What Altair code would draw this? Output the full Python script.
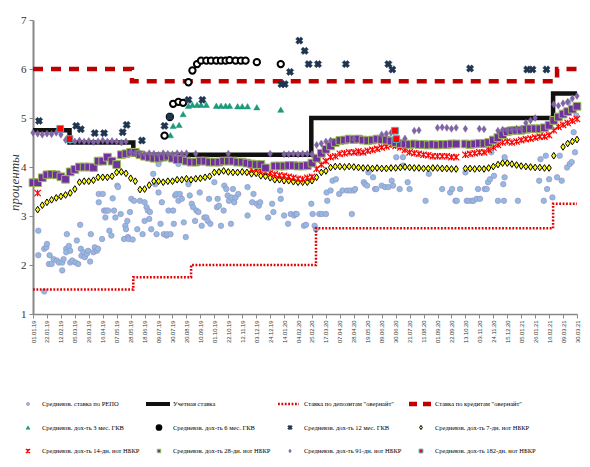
import altair as alt
import pandas as pd

START = pd.Timestamp("2019-01-01")

TICK_LABELS = ["01.01.19", "22.01.19", "12.02.19", "05.03.19", "26.03.19", "16.04.19", "07.05.19",
               "28.05.19", "18.06.19", "09.07.19", "30.07.19", "20.08.19", "10.09.19", "01.10.19",
               "22.10.19", "12.11.19", "03.12.19", "24.12.19", "14.01.20", "04.02.20", "25.02.20",
               "17.03.20", "07.04.20", "28.04.20", "19.05.20", "09.06.20", "30.06.20", "21.07.20",
               "11.08.20", "01.09.20", "22.09.20", "13.10.20", "03.11.20", "24.11.20", "15.12.20",
               "05.01.21", "26.01.21", "16.02.21", "09.03.21", "30.03.21"]

# step lines (date of change, value)
DISCOUNT_DATES = ["2019-01-01", "2019-02-25", "2019-06-01", "2020-02-24", "2021-02-22", "2021-03-30"]
DISCOUNT_VALS = [4.75, 4.5, 4.25, 5.0, 5.5, 5.5]
DEPOSIT_DATES = ["2019-01-01", "2019-06-01", "2019-08-27", "2020-03-02", "2021-02-22", "2021-03-30"]
DEPOSIT_VALS = [1.5, 1.75, 2.0, 2.75, 3.25, 3.25]
CREDIT_DATES = ["2019-01-01", "2019-05-30", "2021-02-28", "2021-03-30"]
CREDIT_VALS = [6.0, 5.75, 6.0, 6.0]

# weekly series (week 0 = 01.01.19)
SEVEN_DAY = [None, 3.13, 3.22, 3.28, 3.33, 3.37, 3.40, 3.43, 3.47, 3.55, 3.69,
             3.71, 3.71, 3.73, 3.79, 3.79, 3.79, 3.81, 3.89, 3.90, 3.87,
             3.77, 3.71, 3.54, 3.55, 3.63, 3.71, 3.71, 3.69, 3.71, 3.71,
             3.74, 3.74, 3.76, 3.74, 3.76, 3.77, 3.79, 3.81, 3.89, 3.90,
             3.92, 3.90, 3.89, 3.89, 3.90, 3.89, 3.86, 3.87, 3.82, 3.81,
             3.78, 3.74, 3.74, 3.72, 3.72, 3.70, 3.69, 3.69, 3.69, 3.72,
             3.79, 3.89, 3.92, 3.99, 4.01, 4.01, 4.00, 4.01, 4.00, 3.99,
             3.98, 3.98, 3.97, 3.98, 3.97, 3.97, 3.98, 3.98, 3.99, 4.00,
             3.99, 3.98, 3.98, 3.97, 3.97, 3.98, 3.98, 3.97, 3.97, 3.96,
             3.96, None, 3.97, 3.97, 3.96, 3.97, 3.96, 3.98, 4.01, 4.05,
             4.08, 4.08, 4.06, 4.04, 4.02, 4.01, 4.00, 3.99, 3.99, 3.98,
             3.98, 4.23, None, 4.41, 4.48, 4.52, 4.56]
FOURTEEN_DAY = ([None, 3.47] + [None] * 45 + [3.95, 3.97, 3.92, 3.90] +
                [3.88, 3.85, 3.83, 3.82, 3.80, 3.78, 3.76, 3.75, 3.78, 3.80,
                 3.96, 4.05, 4.12, 4.20, 4.22, 4.27, 4.28, 4.30, 4.30, 4.32,
                 4.30, 4.33, 4.35, 4.37, 4.40, 4.42, 4.45, 4.43, 4.40, 4.35,
                 4.30, 4.28, 4.27, 4.25, 4.24, 4.22, 4.22, 4.22, 4.22, 4.20,
                 4.20, None, 4.25, 4.27, 4.28, 4.30, 4.30, 4.35, 4.40, 4.45,
                 4.50, 4.52, 4.50, 4.52, 4.55, 4.57, 4.58, 4.60, 4.62, 4.62,
                 4.65, 4.75, 4.82, 4.86, 4.90, 4.94, 4.98])
TWENTY_EIGHT_DAY = [3.68, 3.68, 3.78, 3.84, 3.85, 3.84, 3.80, 3.75, 3.90, 3.95, 4.00,
                    4.00, 4.00, 3.99, 4.12, 4.12, 4.20, 4.12, 4.05, 4.25, 4.27,
                    4.30, 4.30, 4.25, 4.22, 4.20, 4.18, 4.18, 4.20, 4.22, 4.18,
                    4.15, 4.15, 4.12, 4.10, 4.10, 4.12, 4.12, 4.10, 4.10, 4.10,
                    4.12, 4.12, 4.12, 4.10, 4.10, 4.08, 4.06, 4.05, 4.05, 3.98,
                    None, 4.02, 4.02, 4.02, 4.03, 4.03, 4.02, 4.02, 4.03, 4.08,
                    4.18, 4.28, 4.36, 4.43, 4.50, 4.54, 4.55, 4.57, 4.56, 4.57,
                    4.55, 4.54, 4.55, 4.57, 4.56, 4.55, 4.53, 4.50, 4.48, 4.47,
                    4.46, 4.47, 4.46, 4.46, 4.45, 4.46, 4.45, 4.46, 4.46, 4.47,
                    4.47, None, 4.47, 4.46, 4.47, 4.48, 4.48, 4.50, 4.55, 4.60,
                    4.66, 4.72, 4.74, 4.75, 4.75, 4.77, 4.78, 4.78, 4.78, 4.80,
                    4.85, 4.95, 5.02, 5.08, 5.13, 5.18, 5.24]
NINETY_ONE_DAY = [4.70, 4.68, 4.66, 4.68, 4.67, 4.70, 4.66, 4.55, 4.53, 4.52, 4.54,
                  4.52, 4.53, 4.51, 4.52, 4.54, 4.52, 4.53, 4.52, 4.50, 4.52,
                  4.30, 4.28, 4.27, 4.26, 4.28, 4.27, 4.25, 4.28, 4.27, 4.26,
                  4.28, 4.27, 4.28, None, 4.27, None, None, None, None, None,
                  None, 4.27, None, None, None, None, None, None, None, None,
                  4.27, None, None, 4.26, 4.26, 4.27, 4.26, 4.27, 4.27, 4.26,
                  4.45, 4.48, 4.52, 4.54, None, None, None, None, 4.57, None,
                  None, None, None, None, 4.66, 4.68, 4.70, None, None, 4.58,
                  None, 4.74, 4.75, None, None, None, 4.80, 4.81, 4.80, 4.78,
                  4.80, None, 4.78, None, None, 4.78, 4.77, None, None, 4.74,
                  4.76, 4.75, 4.76, 4.78, 4.78, 4.90, 4.95, 5.00, None, None,
                  None, 5.28, 5.25, 5.30, 5.33, 5.40, 5.45]

# sparse series: (day since 01.01.19, value)
GKV3 = [(207, 4.65), (211, 4.84), (220, 4.86), (226, 5.08), (234, 5.25), (240, 5.27), (247, 5.27),
        (253, 5.27), (261, 5.27), (276, 5.25), (283, 5.25), (290, 5.25), (296, 5.25), (308, 5.24),
        (315, 5.24), (323, 5.24), (337, 5.22), (373, 5.17)]
GKV6 = [(198, 4.64), (206, 5.02), (211, 5.29), (219, 5.33), (226, 5.31), (234, 5.73), (240, 5.97),
        (247, 6.10), (253, 6.17), (261, 6.17), (268, 6.17), (276, 6.17), (283, 6.17), (290, 6.17),
        (296, 6.18), (305, 6.17), (313, 6.17), (320, 6.17), (337, 6.14), (373, 6.10)]
GKV12 = [(9, 4.94), (65, 4.84), (72, 4.77), (93, 4.69), (107, 4.69), (135, 4.71), (141, 4.86),
         (164, 4.54), (198, 4.84), (206, 5.03), (234, 5.37), (255, 5.37), (374, 5.69), (379, 5.69),
         (387, 5.94), (401, 6.58), (409, 6.37), (415, 6.10), (429, 6.10), (471, 6.10), (535, 6.10),
         (541, 5.99), (658, 6.01), (744, 5.99), (752, 5.99), (773, 5.99)]
NOTES182 = [(41, 4.78), (55, 4.57), (545, 4.74), (547, 4.57)]
REPO = [(8, 2.70), (8, 2.20), (17, 1.46), (17, 2.33), (20, 2.36), (21, 2.43), (24, 2.02), (25, 2.20),
        (28, 2.02), (31, 2.12), (36, 2.09), (39, 2.05), (44, 1.89), (44, 2.05), (46, 2.12), (50, 2.33),
        (50, 2.26), (51, 2.63), (54, 2.39), (56, 2.29), (56, 2.05), (59, 2.09), (64, 2.05), (66, 2.50),
        (68, 2.02), (71, 2.82), (72, 2.33), (73, 2.19), (76, 2.26), (78, 2.16), (81, 2.23), (83, 2.29),
        (86, 2.07), (87, 2.63), (91, 2.26), (93, 2.36), (96, 2.29), (99, 3.45), (99, 3.28), (98, 2.33),
        (104, 2.53), (105, 3.45), (107, 3.11), (109, 2.97), (110, 3.11), (113, 3.11), (115, 2.70),
        (118, 2.60), (120, 3.36), (122, 3.11), (124, 2.97), (127, 3.62), (128, 3.59), (132, 3.04),
        (137, 2.53), (139, 2.80), (140, 2.73), (142, 2.90), (143, 2.57), (144, 2.53), (146, 3.08),
        (148, 3.35), (150, 2.52), (152, 3.31), (157, 2.73), (161, 3.31), (165, 2.63), (168, 3.28),
        (168, 2.90), (171, 3.18), (173, 3.11), (175, 2.94), (176, 3.08), (178, 2.73), (181, 3.86),
        (184, 3.65), (186, 2.63), (189, 3.48), (189, 4.06), (192, 2.84), (194, 3.28), (197, 2.63),
        (201, 2.60), (202, 2.63), (204, 3.11), (207, 2.63), (211, 3.11), (212, 2.84), (214, 3.42),
        (216, 3.45), (219, 3.31), (219, 4.06), (221, 3.45), (224, 3.35), (227, 2.87), (230, 2.57),
        (234, 3.65), (236, 3.42), (239, 3.25), (241, 3.18), (244, 2.90), (246, 3.11), (249, 3.08),
        (251, 3.48), (254, 2.80), (258, 2.97), (261, 2.97), (263, 2.90), (265, 3.35), (267, 2.84),
        (273, 3.69), (277, 3.18), (278, 3.35), (280, 3.21), (283, 2.80), (287, 3.11), (288, 3.62),
        (291, 3.55), (293, 3.42), (295, 3.31), (298, 2.84), (299, 3.38), (301, 3.55), (303, 3.28),
        (305, 3.38), (309, 3.45), (323, 3.01), (323, 3.59), (330, 3.28), (332, 3.45), (337, 3.25),
        (340, 3.21), (342, 3.28), (354, 2.97), (360, 3.25), (362, 3.08), (372, 3.52), (373, 3.35),
        (378, 3.01), (384, 2.84), (388, 3.04), (393, 3.01), (395, 3.04), (408, 2.80),
        (397, 3.04), (411, 2.82), (419, 3.25), (421, 3.04), (424, 2.80), (426, 2.73), (431, 3.04),
        (435, 3.04), (441, 3.04), (442, 3.48), (443, 3.31), (448, 3.52), (451, 3.72), (456, 3.75),
        (461, 3.45), (466, 3.52), (473, 3.52), (478, 3.52), (480, 3.04), (483, 3.52), (485, 3.55),
        (490, 4.28), (498, 3.69), (500, 3.65), (503, 3.62), (505, 3.89), (512, 3.79), (515, 3.55),
        (517, 3.55), (525, 3.62), (530, 3.59), (535, 3.59), (540, 3.72), (542, 3.62), (547, 4.20),
        (552, 3.55), (557, 4.03), (557, 4.20), (564, 3.69), (567, 3.55), (591, 3.31), (596, 3.86),
        (616, 3.55), (628, 3.48), (631, 3.55), (636, 3.31), (638, 3.31), (643, 3.55), (651, 3.89),
        (653, 3.31), (656, 3.31), (661, 3.31), (663, 3.31), (668, 3.35), (670, 3.55), (673, 3.35),
        (680, 3.55), (683, 3.55), (685, 3.69), (688, 3.75), (690, 4.30), (694, 3.82), (700, 3.31),
        (708, 3.65), (709, 3.31), (710, 3.79), (710, 4.20), (730, 3.31), (762, 3.72), (764, 4.16),
        (769, 3.31), (772, 4.23), (774, 3.55), (777, 3.75), (782, 3.38), (789, 3.79), (793, 4.23),
        (796, 3.72), (799, 5.12), (804, 3.99), (806, 5.32), (808, 4.06), (811, 4.10), (814, 4.71),
        (816, 4.30), (818, 5.05)]

LEGEND_LABELS = ["Средневзв. ставка по РЕПО", "Учетная ставка",
                 'Ставка по депозитам "овернайт"', 'Ставка по кредитам "овернайт"',
                 "Средневзв. дох-ть 3 мес. ГКВ", "Средневзв. дох-ть 6 мес. ГКВ",
                 "Средневзв. дох-ть 12 мес. ГКВ", "Средневзв. дох-ть 7-дн. нот НБКР",
                 "Средневзв. дох-ть 14-дн. нот НБКР", "Средневзв. дох-ть 28-дн. нот НБКР",
                 "Средневзв. дох-ть 91-дн. нот НБКР", "Средневзв. дох-ть 182-дн. нот НБКР"]


def week_df(vals):
    dates = pd.date_range(START, periods=len(vals), freq="7D").strftime("%Y-%m-%d")
    return pd.DataFrame({"date": dates, "v": vals}).dropna()


def day_df(pairs):
    return pd.DataFrame({"date": [(START + pd.Timedelta(days=d)).strftime("%Y-%m-%d") for d, _ in pairs],
                         "v": [v for _, v in pairs]})


def step_df(dates, vals):
    return pd.DataFrame({"date": dates, "v": vals})


def dt(s):
    d, m, y = s.split(".")
    return alt.DateTime(year=2000 + int(y), month=int(m), date=int(d), utc=True)


xaxis = alt.Axis(values=[dt(s) for s in TICK_LABELS], labelExpr="utcFormat(datum.value, '%d.%m.%y')",
                 labelAngle=270, labelFont="Liberation Sans", labelFontSize=5.8, labelColor="#333333",
                 labelPadding=2, labelFlush=False, labelOverlap=False, tickSize=4, tickColor="#888888",
                 domainColor="#888888", domainWidth=1.5, grid=False, title=None)
yaxis = alt.Axis(values=[1, 2, 3, 4, 5, 6, 7], format="d", labelFont="Liberation Serif", labelFontSize=11,
                 labelColor="#333333", labelPadding=3, tickSize=4, tickColor="#888888",
                 domainColor="#888888", domainWidth=2, grid=False, title="проценты",
                 titleFont="Liberation Serif", titleFontStyle="italic", titleFontWeight="normal",
                 titleFontSize=13, titleColor="#333333", titleX=-19, titleY=162, titleBaseline="middle",
                 titleAlign="center", titleAngle=270)

X = alt.X("date:T", scale=alt.Scale(type="utc", domain=[dt("01.01.19"), dt("30.03.21")], nice=False),
          axis=xaxis)
Y = alt.Y("v:Q", scale=alt.Scale(domain=[1, 7], nice=False, zero=False), axis=yaxis)

TALL_DIAMOND = "M0,-1L0.65,0L0,1L-0.65,0Z"
ASTERISK = "M-1,-1L1,1M1,-1L-1,1M0,-1L0,1"

STYLES = {
    "repo": dict(shape="circle", filled=True, fill="#8fbcdf", stroke="#9d8fcc", strokeWidth=0.7),
    "gkv3": dict(shape="triangle-up", filled=True, fill="#1b9a7c", stroke="#1b9a7c", strokeWidth=0.5),
    "gkv6": dict(shape="circle", filled=True, fill="white", stroke="black", strokeWidth=2),
    "gkv12": dict(shape="cross", angle=45, filled=True, fill="#1f3552", stroke="#1f3552", strokeWidth=0.5),
    "d7": dict(shape=TALL_DIAMOND, filled=True, fill="#ffff00", stroke="black", strokeWidth=1),
    "d14": dict(shape=ASTERISK, filled=False, stroke="#ff0000", strokeWidth=1.2),
    "d28": dict(shape="square", filled=True, fill="#7030a0", stroke="#9bbb59", strokeWidth=1),
    "d91": dict(shape=TALL_DIAMOND, filled=True, fill="#8064a2", stroke="#8064a2", strokeWidth=0.5),
    "d182": dict(shape="square", filled=True, fill="#ff0000", stroke="#4bacc6", strokeWidth=1),
}
SIZES = {"repo": 30, "gkv3": 38, "gkv6": 40, "gkv12": 55, "d7": 45, "d14": 40, "d28": 60, "d91": 50, "d182": 45}
LEG_SIZES = {"repo": 10, "gkv3": 16, "gkv6": 22, "gkv12": 22, "d7": 18, "d14": 18, "d28": 12, "d91": 16, "d182": 14}


def pts(df, key):
    return alt.Chart(df).mark_point(size=SIZES[key], opacity=1, **STYLES[key]).encode(x=X, y=Y)


def step(df, **kw):
    return alt.Chart(df).mark_line(interpolate="step-after", **kw).encode(x=X, y=Y)


main = alt.layer(
    pts(day_df(REPO), "repo"),
    step(step_df(DISCOUNT_DATES, DISCOUNT_VALS), color="#111111", strokeWidth=4.5),
    step(step_df(DEPOSIT_DATES, DEPOSIT_VALS), color="#e00000", strokeWidth=2.5, strokeDash=[1.8, 1.6]),
    step(step_df(CREDIT_DATES, CREDIT_VALS), color="#c00000", strokeWidth=4.5, strokeDash=[10, 8]),
    pts(day_df(GKV3), "gkv3"),
    pts(day_df(GKV6), "gkv6"),
    pts(day_df(GKV12), "gkv12"),
    pts(week_df(SEVEN_DAY), "d7"),
    pts(week_df(FOURTEEN_DAY), "d14"),
    pts(week_df(TWENTY_EIGHT_DAY), "d28"),
    pts(week_df(NINETY_ONE_DAY), "d91"),
    pts(day_df(NOTES182), "d182"),
)

# legend below the plot: its own independent scales (column / row of each entry)
leg_df = pd.DataFrame({"label": LEGEND_LABELS, "i": list(range(len(LEGEND_LABELS)))})
leg_df["col"] = leg_df["i"] % 4
leg_df["row"] = leg_df["i"] // 4
LX = alt.X("col:Q", scale=alt.Scale(domain=[0, 3], range=[9, 402]), axis=None)
LY = alt.Y("row:Q", scale=alt.Scale(domain=[0, 2], range=[384, 431]), axis=None)
lbase = alt.Chart(leg_df).encode(x=LX, y=LY)

leg_layers = [lbase.mark_text(align="left", baseline="middle", font="Liberation Serif", fontSize=6.5,
                              color="black").encode(text="label:N")]
POINT_KEYS = {0: "repo", 4: "gkv3", 5: "gkv6", 6: "gkv12", 7: "d7", 8: "d14", 9: "d28", 10: "d91", 11: "d182"}
for i, key in POINT_KEYS.items():
    st = dict(STYLES[key])
    if key == "gkv6":
        st["fill"] = "black"
    leg_layers.append(lbase.transform_filter(alt.datum.i == i).mark_point(
        size=LEG_SIZES[key], opacity=1, xOffset=-14, **st))
leg_layers.append(lbase.transform_filter(alt.datum.i == 1).mark_rule(
    color="#111111", strokeWidth=4, xOffset=-27, x2Offset=-3).encode(x2=alt.X2("col:Q")))
leg_layers.append(lbase.transform_filter(alt.datum.i == 2).mark_rule(
    color="#e00000", strokeWidth=2.5, strokeDash=[1.8, 1.6], xOffset=-26, x2Offset=-5).encode(x2=alt.X2("col:Q")))
leg_layers.append(lbase.transform_filter(alt.datum.i == 3).mark_rule(
    color="#c00000", strokeWidth=4.5, strokeDash=[8, 6], xOffset=-26, x2Offset=-4).encode(x2=alt.X2("col:Q")))
legend = alt.layer(*leg_layers)

chart = alt.layer(main, legend).resolve_scale(x="independent", y="independent").properties(
    width=574, height=294,
    autosize=alt.AutoSizeParams(type="fit-x", contains="padding"),
    padding={"left": 0, "top": 6, "right": -4, "bottom": -1}, background="white"
).configure_view(stroke=None)

chart.save("out.html", embed_options={"renderer": "svg", "actions": False})
